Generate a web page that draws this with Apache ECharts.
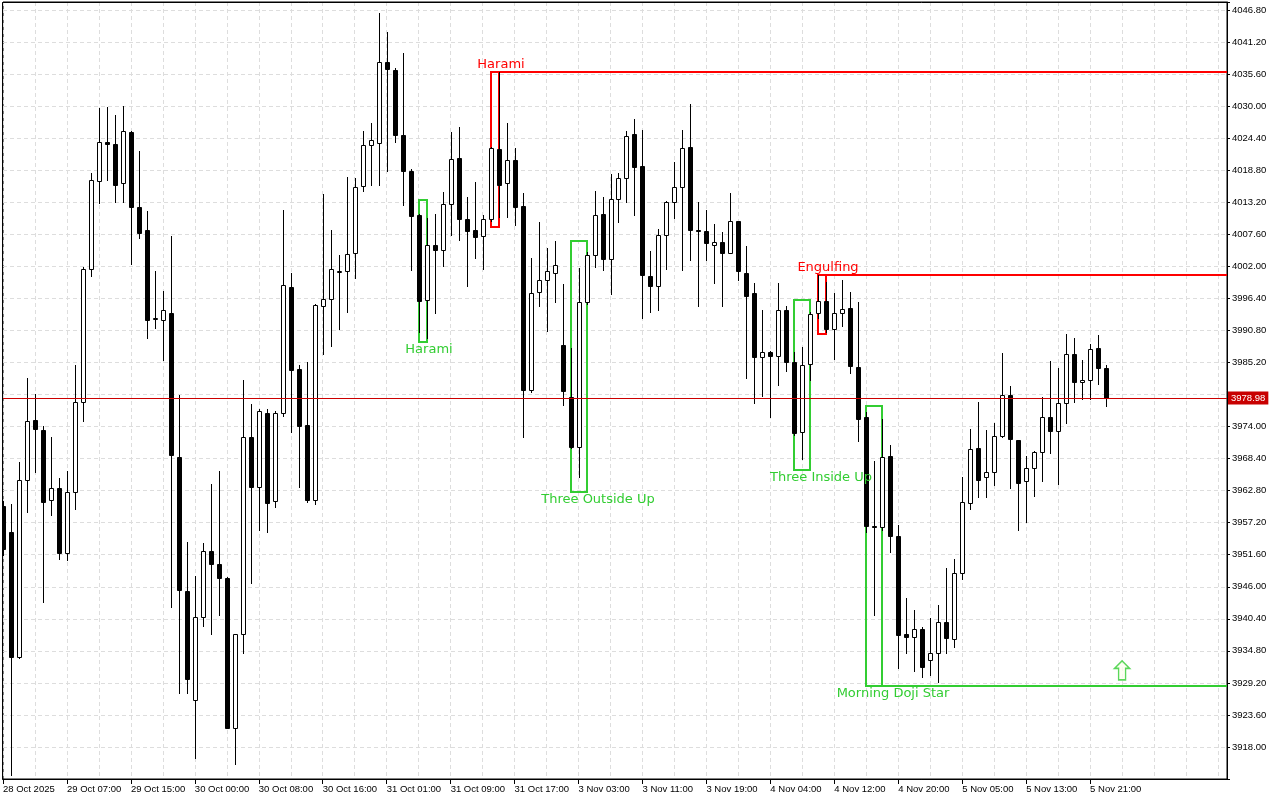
<!DOCTYPE html>
<html><head><meta charset="utf-8">
<script src="https://cdn.jsdelivr.net/npm/echarts@6.0.0/dist/echarts.min.js"></script>
<style>html,body{margin:0;padding:0;background:#fff}#c{width:1280px;height:800px}</style>
</head><body><div id="c"></div><script>
// ---- data ----
const timeLabels = ['28 Oct 2025','29 Oct 07:00','29 Oct 15:00','30 Oct 00:00','30 Oct 08:00','30 Oct 16:00',
  '31 Oct 01:00','31 Oct 09:00','31 Oct 17:00','3 Nov 03:00','3 Nov 11:00','3 Nov 19:00','4 Nov 04:00',
  '4 Nov 12:00','4 Nov 20:00','5 Nov 05:00','5 Nov 13:00','5 Nov 21:00'];
const barsPerLabel = 8;
const openP = [3960.1,3955.6,3933.7,3964.7,3975.2,3973.4,3961.1,3963.2,3951.9,3962.6,
 3978.3,4001.6,4016.9,4023.8,4023.4,4016.5,4025.5,4012.3,4008.3,3992.8,
 3992.7,3993.8,3968.7,3945.3,3926.2,3940.7,3952.3,3949.9,3947.6,3921.4,
 3937.7,3972.2,3963.5,3976.3,3961.0,3976.3,3998.4,3984.0,3974.2,3961.2,
 3995.1,3996.3,4001.0,4001.1,4004.3,4016.1,4023.2,4023.6,4037.8,4036.4,
 4024.9,4018.7,4011.0,3996.1,4005.7,4004.9,4012.9,4021.0,4010.3,4008.4,
 4007.3,4010.2,4022.5,4016.5,4020.5,4012.5,3980.4,3997.5,3999.6,4000.9,
 3988.3,3979.2,3970.5,3995.7,4003.9,4011.1,4003.3,4013.7,4017.4,4025.1,
 4019.5,4000.3,3998.5,4007.4,4013.2,4015.8,4022.8,4008.4,4008.1,4005.8,
 4006.2,4004.4,4009.9,4000.8,3997.3,3986.2,3987.1,3986.4,3994.3,3985.2,
 3973.1,3984.9,3993.8,3995.9,3991.0,3993.8,3994.7,3984.4,3975.6,3956.7,
 3956.5,3968.9,3954.8,3937.8,3937.2,3938.6,3933.2,3934.4,3939.8,3936.9,
 3948.4,3960.6,3970.3,3965.1,3966.0,3972.3,3979.6,3971.6,3964.4,3966.7,
 3969.5,3975.6,3973.2,3978.2,3986.6,3981.7,3982.1,3987.7,3984.2];
const highP = [3961.0,3960.5,3967.8,3982.4,3979.7,3974.1,3972.1,3965.0,3966.2,3984.8,
 4001.8,4018.4,4029.6,4029.8,4028.5,4030.1,4025.7,4022.1,4011.7,4001.2,
 3997.7,4007.3,3979.5,3953.8,3947.8,3953.6,3963.9,3966.3,3947.7,3937.8,
 3982.2,3977.9,3977.1,3977.0,3976.7,4011.9,4000.8,3984.8,3985.3,3995.4,
 4014.7,4008.4,4004.0,4017.7,4017.5,4025.6,4027.0,4046.2,4042.9,4036.7,
 4039.2,4019.0,4011.1,4010.5,4011.2,4015.0,4025.5,4026.4,4014.2,4016.8,
 4011.0,4022.8,4036.0,4027.0,4022.6,4014.9,4003.4,4009.7,4005.2,4006.4,
 3998.9,3987.7,4001.7,4004.5,4015.2,4014.2,4018.1,4018.4,4025.7,4027.8,
 4025.8,4004.6,4008.5,4013.4,4020.2,4025.8,4030.4,4013.2,4011.9,4009.4,
 4008.0,4014.8,4010.0,4005.6,3999.1,3994.4,3987.2,3999.1,3995.0,3987.0,
 3987.9,3994.0,4000.5,3999.3,3997.3,3999.7,3997.5,3995.7,3976.5,3968.0,
 3975.3,3970.8,3956.8,3944.0,3942.0,3939.0,3940.5,3942.8,3949.2,3950.8,
 3965.2,3973.6,3978.3,3973.4,3974.6,3986.9,3981.1,3971.7,3968.8,3969.7,
 3979.2,3985.5,3984.2,3990.2,3989.4,3985.7,3988.5,3990.0,3984.8];
const lowP = [3951.5,3913.1,3933.5,3959.0,3966.1,3943.4,3958.5,3950.9,3950.7,3959.6,
 3975.0,4000.3,4013.1,4017.1,4013.3,4013.3,4002.4,4007.0,3989.4,3991.3,
 3985.6,3942.4,3927.4,3927.4,3916.0,3939.1,3937.7,3941.0,3921.3,3915.0,
 3934.4,3946.7,3956.0,3955.6,3960.0,3975.8,3973.1,3963.5,3960.8,3960.5,
 3986.7,3988.0,3991.1,3994.1,3999.9,4015.1,4016.2,4016.2,4018.6,4023.7,
 4012.7,4001.3,3990.6,3989.5,3993.8,4002.0,4007.4,4006.6,3998.5,4003.4,
 4001.5,4010.0,4010.7,4010.7,4009.2,3972.2,3980.1,3995.1,3990.7,3995.8,
 3977.7,3970.3,3965.2,3995.5,4001.9,4001.4,3997.2,4009.8,4013.3,4011.0,
 3992.9,3994.1,3994.3,4001.6,4010.5,4001.4,4003.1,3995.1,4003.1,3999.1,
 3995.1,4004.3,3999.7,3982.4,3978.2,3979.4,3975.6,3981.3,3983.7,3972.5,
 3968.3,3982.1,3993.0,3990.5,3985.8,3991.6,3983.3,3971.5,3955.5,3941.1,
 3956.0,3952.1,3931.8,3934.4,3931.2,3930.2,3930.6,3929.4,3934.4,3935.4,
 3947.3,3959.6,3961.6,3961.6,3963.7,3972.2,3963.3,3956.0,3957.4,3961.9,
 3964.5,3969.4,3964.0,3974.7,3978.3,3978.8,3978.9,3981.4,3977.6];
const closeP = [3952.6,3933.7,3964.7,3974.9,3973.6,3960.9,3963.2,3951.9,3962.6,3978.3,
 4001.6,4017.1,4023.7,4023.3,4016.3,4025.7,4012.3,4007.9,3992.7,3992.9,
 3994.4,3969.1,3945.4,3929.9,3940.7,3952.3,3949.9,3947.6,3921.4,3937.7,
 3972.2,3963.5,3976.7,3960.7,3976.3,3998.7,3983.9,3974.1,3961.2,3995.3,
 3996.3,4001.5,4001.2,4004.2,4015.9,4023.2,4024.1,4037.8,4036.5,4025.0,
 4018.6,4010.8,3995.9,4005.7,4004.8,4012.9,4020.8,4010.3,4008.2,4007.2,
 4010.2,4022.6,4016.3,4020.5,4012.4,3980.4,3997.3,3999.6,4001.2,4002.3,
 3980.3,3970.5,3995.7,4003.9,4010.9,4003.3,4013.7,4017.4,4024.7,4019.4,
 4000.4,3998.5,4007.4,4013.2,4015.8,4022.6,4008.4,4008.1,4006.0,4006.2,
 4004.4,4010.0,4001.1,3996.9,3986.2,3987.1,3986.4,3994.3,3985.3,3972.9,
 3984.8,3993.6,3995.9,3991.0,3993.8,3994.6,3984.5,3975.4,3956.7,3956.5,
 3968.7,3954.8,3937.5,3937.2,3938.6,3931.9,3934.4,3939.8,3937.0,3948.4,
 3960.8,3970.0,3964.7,3966.0,3972.3,3979.6,3971.8,3964.2,3966.7,3969.5,
 3975.6,3973.3,3978.1,3986.6,3981.8,3982.1,3987.5,3984.2,3978.98];
const currentPrice = 3978.98;

const patternNames   = ['Harami','Harami','Three Outside Up','Three Inside Up','Engulfing','Morning Doji Star'];
const patternFirst   = [52, 61, 71, 99, 102, 108];
const patternLast    = [53, 62, 73, 101, 103, 110];
const patternTop     = [4013.6, 4036.0, 4006.5, 3996.1, 4000.5, 3977.6];
const patternBottom  = [3988.7, 4008.9, 3962.5, 3966.4, 3990.2, 3928.7];
const patternBullish = [true, false, true, true, false, true];
const patternLevel   = [false, true, false, false, true, true];

const signalIndex = [140];
const signalPrice = [3931.4];

const yMin = 3912.4, yMax = 4048.2, yStep = 5.6;
const xSlots = 153.125;

// ---- chart ----
const GREEN = '#32cd32', RED = '#ff0000';
const AXFONT = 'Liberation Sans';
const G = {left: 2, right: 53, top: 2, bottom: 21};
const W = 1280, H = 800;
const chart = echarts.init(document.getElementById('c'), null, {renderer: 'canvas'});

const candleData = openP.map((o, i) => [i, o, closeP[i], lowP[i], highP[i]]);
const patternData = patternNames.map((n, k) => [patternFirst[k], patternTop[k], patternLast[k], patternBottom[k], k]);

function renderCandle(params, api) {
  const i = api.value(0), o = api.value(1), c = api.value(2), l = api.value(3), h = api.value(4);
  const pO = api.coord([i, o]), pC = api.coord([i, c]);
  const pL = api.coord([i, l]), pH = api.coord([i, h]);
  const cx = Math.round(pO[0]) + 0.5;
  const yT = Math.round(Math.min(pO[1], pC[1])) + 0.5;
  const yB = Math.round(Math.max(pO[1], pC[1])) + 0.5;
  const up = c >= o;
  return {
    type: 'group',
    children: [
      {type: 'line', shape: {x1: cx, y1: Math.round(pH[1]), x2: cx, y2: Math.round(pL[1]) + 1},
       style: {stroke: '#000', lineWidth: 1}},
      {type: 'rect', shape: {x: cx - 2, y: yT, width: 4, height: Math.max(0, yB - yT)},
       style: {fill: up ? '#fff' : '#000', stroke: '#000', lineWidth: 1}}
    ]
  };
}

function renderPattern(params, api) {
  const k = api.value(4);
  const p1 = api.coord([api.value(0), api.value(1)]);
  const p2 = api.coord([api.value(2), api.value(3)]);
  const cs = params.coordSys;
  const col = patternBullish[k] ? GREEN : RED;
  const x1 = Math.round(p1[0]), x2 = Math.round(p2[0]);
  const y1 = Math.round(p1[1]), y2 = Math.round(p2[1]);
  const children = [
    {type: 'rect', shape: {x: x1, y: y1, width: x2 - x1, height: y2 - y1},
     style: {fill: 'none', stroke: col, lineWidth: 2}}
  ];
  if (patternLevel[k]) {
    const yl = patternBullish[k] ? y2 : y1;
    children.push({type: 'line', shape: {x1: x1, y1: yl, x2: cs.x + cs.width, y2: yl},
      style: {stroke: col, lineWidth: 2}});
  }
  return {type: 'group', children};
}

function renderPatternLabel(params, api) {
  const k = api.value(4);
  const p1 = api.coord([api.value(0), api.value(1)]);
  const p2 = api.coord([api.value(2), api.value(3)]);
  const span = api.value(2) - api.value(0);
  const cxl = Math.round(p1[0]) + 17 * span - 7;
  const bull = patternBullish[k];
  const y = bull ? Math.round(p2[1]) + 8 : Math.round(p1[1]) - 7;
  return {
    type: 'text',
    style: {text: patternNames[k], x: cxl, y: y, align: 'center', verticalAlign: 'middle',
      fill: bull ? GREEN : RED, font: '13px "DejaVu Sans"'}
  };
}

const labelTicks = timeLabels.map((t, j) => j * barsPerLabel);

const option = {
  animation: false,
  backgroundColor: '#fff',
  grid: {left: G.left, right: G.right, top: G.top, bottom: G.bottom, show: true, borderColor: '#000', borderWidth: 1, backgroundColor: '#fff'},
  graphic: [{type: 'rect', z: 100, silent: true,
    shape: {x: G.left + 0.5, y: G.top + 0.5, width: W - G.left - G.right, height: H - G.top - G.bottom},
    style: {fill: 'none', stroke: '#000', lineWidth: 1}}],
  xAxis: [
    {type: 'value', min: 0, max: xSlots, interval: 4,
     axisLine: {show: true, onZero: false, lineStyle: {color: '#000'}},
     axisTick: {show: false}, axisLabel: {show: false},
     splitLine: {show: true, lineStyle: {color: '#dddddd', type: [4, 3], width: 1}}},
    {type: 'value', min: 0, max: xSlots, interval: barsPerLabel, position: 'bottom',
     axisLine: {show: false, onZero: false},
     axisTick: {show: true, length: 5, lineStyle: {color: '#000'}, customValues: labelTicks},
     axisLabel: {show: true, align: 'left', margin: 5, fontSize: 9.5, fontFamily: AXFONT, color: '#000',
       customValues: labelTicks, showMinLabel: true, showMaxLabel: true, hideOverlap: false,
       formatter: v => { const j = Math.round(v / barsPerLabel); return (Math.abs(v - j * barsPerLabel) < 0.01 && timeLabels[j]) ? timeLabels[j] : ''; }},
     splitLine: {show: false}}
  ],
  yAxis: {
    type: 'value', position: 'right', min: yMin, max: yMax, interval: yStep, scale: true,
    axisLine: {show: true, onZero: false, lineStyle: {color: '#000'}},
    axisTick: {show: true, length: 3, lineStyle: {color: '#000'}},
    axisLabel: {margin: 5, fontSize: 9.5, fontFamily: AXFONT, color: '#000',
      formatter: v => (v < yMin + 0.05 || v > yMax - 0.5 || Math.abs(v - currentPrice) < 2.5) ? '' : v.toFixed(2)},
    splitLine: {show: true, lineStyle: {color: '#dddddd', type: [4, 3], width: 1}}
  },
  series: [
    {type: 'custom', name: 'patterns', xAxisIndex: 0, z: 1, clip: true, silent: true,
     renderItem: renderPattern, data: patternData, encode: {x: [0, 2], y: [1, 3]}},
    {type: 'custom', name: 'candles', xAxisIndex: 0, z: 3, clip: true, silent: true,
     renderItem: renderCandle, data: candleData, encode: {x: 0, y: [1, 2, 3, 4]}},
    {type: 'custom', name: 'patternLabels', xAxisIndex: 0, z: 4, clip: false, silent: true,
     renderItem: renderPatternLabel, data: patternData, encode: {x: [0, 2], y: [1, 3]}},
    {type: 'scatter', name: 'signal', xAxisIndex: 0, z: 5, silent: true,
     data: signalIndex.map((x, j) => [x, signalPrice[j]]),
     symbol: 'path://M7.5,0 L15,7.5 L11,7.5 L11,19 L4,19 L4,7.5 L0,7.5 Z',
     symbolSize: [15, 19],
     itemStyle: {color: '#fbfff0', borderColor: GREEN, borderWidth: 1.5},
     markLine: {silent: true, symbol: 'none', animation: false,
       data: [{yAxis: currentPrice}],
       lineStyle: {color: '#cc0000', width: 1, type: 'solid'},
       label: {show: true, position: 'end', distance: 1, formatter: currentPrice.toFixed(2),
         color: '#fff', backgroundColor: '#c80000', padding: [2, 3, 1, 3],
         fontSize: 9.5, fontFamily: AXFONT}}}
  ]
};
chart.setOption(option);
</script></body></html>
